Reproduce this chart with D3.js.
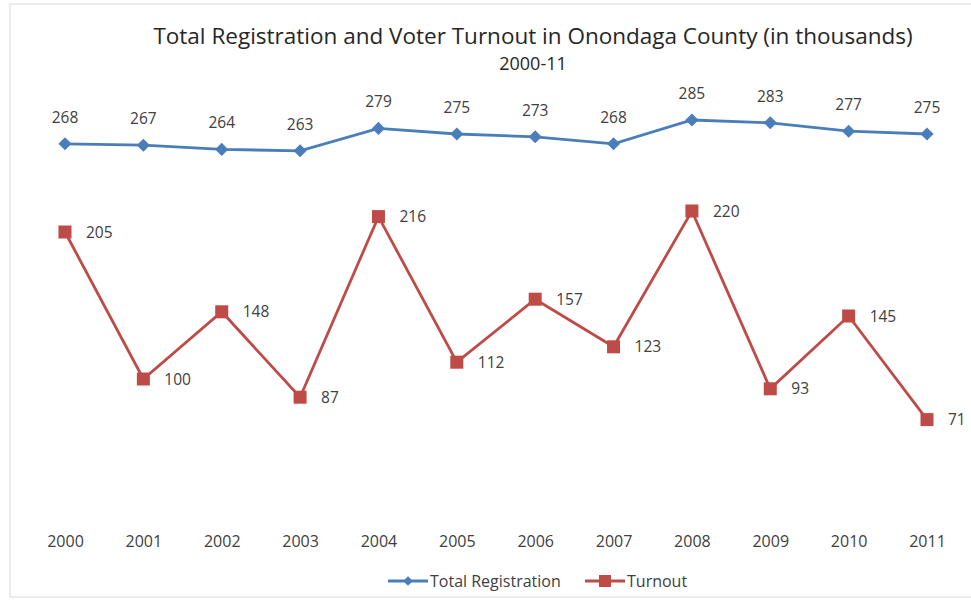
<!DOCTYPE html>
<html>
<head>
<meta charset="utf-8">
<script src="https://cdn.jsdelivr.net/npm/d3@7"></script>
<style>
  body { margin: 0; background: #fff; }
  text { font-family: "Open Sans", "Liberation Sans", sans-serif; }
</style>
</head>
<body>
<svg id="chart" width="971" height="606"></svg>
<script>
// data
const years = ["2000", "2001", "2002", "2003", "2004", "2005", "2006", "2007", "2008", "2009", "2010", "2011"];
const registration = [268, 267, 264, 263, 279, 275, 273, 268, 285, 283, 277, 275];
const turnout = [205, 100, 148, 87, 216, 112, 157, 123, 220, 93, 145, 71];
const seriesNames = ["Total Registration", "Turnout"];

const svg = d3.select("#chart");
const blue = "#4a7ebb", red = "#be4b48", txt = "#404040";

// faint chart border
svg.append("rect")
  .attr("x", 10).attr("y", 4).attr("width", 975).attr("height", 593)
  .attr("fill", "none").attr("stroke", "#d9d9d9").attr("stroke-width", 1);

const x = d3.scalePoint().domain(years).range([65, 927]);
const y = d3.scaleLinear().domain([0, 300]).range([519, 99]);

// title
svg.append("text")
  .attr("x", 533).attr("y", 44)
  .attr("text-anchor", "middle")
  .attr("font-size", "22.5px")
  .attr("fill", "#262626")
  .text("Total Registration and Voter Turnout in Onondaga County (in thousands)");
svg.append("text")
  .attr("x", 533).attr("y", 70)
  .attr("text-anchor", "middle")
  .attr("font-size", "18px")
  .attr("fill", "#262626")
  .text("2000-11");

// x axis, labels only
const xAxis = svg.append("g")
  .attr("transform", "translate(0, 528)")
  .call(d3.axisBottom(x).tickSize(0).tickPadding(8));
xAxis.select(".domain").remove();
xAxis.selectAll("text")
  .attr("font-size", "16px")
  .attr("fill", txt)
  .style("font-family", "'Open Sans', sans-serif");

const line = d3.line().x((d, i) => x(years[i])).y(d => y(d));

// registration
svg.append("path")
  .datum(registration)
  .attr("d", line)
  .attr("fill", "none")
  .attr("stroke", blue)
  .attr("stroke-width", 2.8);
svg.selectAll(".reg-pt")
  .data(registration)
  .join("path")
  .attr("class", "reg-pt")
  .attr("d", d3.symbol(d3.symbolDiamond2, 110))
  .attr("transform", (d, i) => `translate(${x(years[i])}, ${y(d)})`)
  .attr("fill", blue);
svg.selectAll(".reg-lbl")
  .data(registration)
  .join("text")
  .attr("class", "reg-lbl")
  .attr("x", (d, i) => x(years[i]))
  .attr("y", d => y(d) - 21)
  .attr("text-anchor", "middle")
  .attr("font-size", "15.5px")
  .attr("fill", txt)
  .text(d => d);

// turnout
svg.append("path")
  .datum(turnout)
  .attr("d", line)
  .attr("fill", "none")
  .attr("stroke", red)
  .attr("stroke-width", 2.8);
svg.selectAll(".turn-pt")
  .data(turnout)
  .join("rect")
  .attr("class", "turn-pt")
  .attr("x", (d, i) => x(years[i]) - 6.5)
  .attr("y", d => y(d) - 6.5)
  .attr("width", 13).attr("height", 13)
  .attr("fill", red);
svg.selectAll(".turn-lbl")
  .data(turnout)
  .join("text")
  .attr("class", "turn-lbl")
  .attr("x", (d, i) => x(years[i]) + 21)
  .attr("y", d => y(d) + 5.5)
  .attr("font-size", "15.5px")
  .attr("fill", txt)
  .text(d => d);

// legend
const legend = svg.append("g").attr("transform", "translate(0, 581)");
const legendItems = [
  { name: seriesNames[0], color: blue, x0: 388, shape: "diamond" },
  { name: seriesNames[1], color: red, x0: 585, shape: "square" }
];
legendItems.forEach(it => {
  legend.append("line")
    .attr("x1", it.x0).attr("x2", it.x0 + 40)
    .attr("stroke", it.color).attr("stroke-width", 2.8);
  if (it.shape === "diamond") {
    legend.append("path")
      .attr("d", d3.symbol(d3.symbolDiamond2, 60))
      .attr("transform", `translate(${it.x0 + 20}, 0)`)
      .attr("fill", it.color);
  } else {
    legend.append("rect")
      .attr("x", it.x0 + 14).attr("y", -6).attr("width", 12).attr("height", 12)
      .attr("fill", it.color);
  }
  legend.append("text")
    .attr("x", it.x0 + 42).attr("y", 5.5)
    .attr("font-size", "16px")
    .attr("fill", txt)
    .text(it.name);
});
</script>
</body>
</html>
